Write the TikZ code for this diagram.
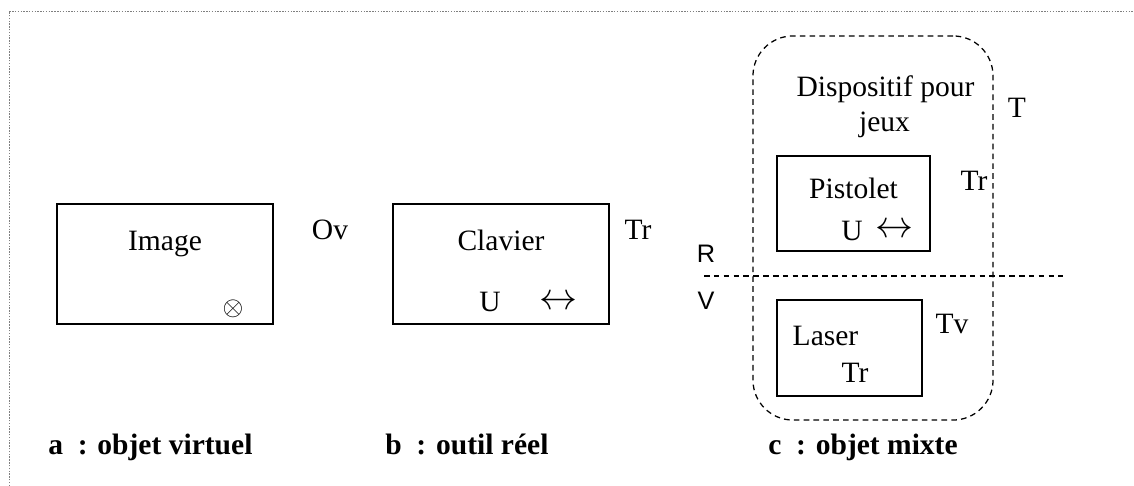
\documentclass[tikz,border=0pt]{standalone}
\usepackage{fontspec}
\setmainfont{Liberation Serif}
\setsansfont{Liberation Sans}
\usepackage{tikz}
\usetikzlibrary{positioning}
\definecolor{Frame}{HTML}{7F7F7F}

\begin{document}
\begin{tikzpicture}[x=0.025cm, y=-0.025cm,
    lbl/.style={font=\fontsize{21}{25}\selectfont, inner sep=0pt, anchor=base},
    side/.style={font=\sffamily\fontsize{18}{22}\selectfont, inner sep=0pt, anchor=base},
    captxt/.style={font=\bfseries\fontsize{21}{25}\selectfont, inner sep=0pt, anchor=base west},
    box/.style={draw, line width=0.9pt, inner sep=0pt},
    zone/.style={draw, line width=0.9pt, dash pattern=on 4pt off 3pt, rounded corners=1cm, inner sep=0pt},
    sym/.style={inner sep=0pt}]
  \useasboundingbox (0,0) rectangle (1134,486);
  % outer frame
  \draw[Frame, line width=0.5pt, dash pattern=on 1pt off 1pt] (9,486) -- (9,11) -- (1134,11);

  % a : virtual object
  \node[box, minimum width=5.4cm, minimum height=3cm] (image) at (165,264) {};
  \node[lbl] (imagetxt) at (165,250) {Image};
  \node[sym] (imagesym) at (233,309) {\scalebox{1.9}{$\otimes$}};
  \node[lbl] (ov) at (330,239) {Ov};

  % b : real tool
  \node[box, minimum width=5.4cm, minimum height=3cm] (clavier) at (501,264) {};
  \node[lbl] (claviertxt) at (501,250) {Clavier};
  \node[lbl] (clavieru) at (490,311) {U};
  \node[sym] (clavierarr) at (558,309) {\scalebox{2.7}{$\smash{\leftrightarrow}$}};
  \node[lbl] (claviertr) at (638,239) {Tr};

  % c : mixed object
  \node[zone, minimum width=6cm, minimum height=9.6cm] (dispositif) at (873,228) {};
  \node[lbl] (disptxt) at (885.5,97) {Dispositif pour};
  \node[lbl] (jeux) at (884.5,132) {jeux};
  \node[lbl] (dispt) at (1017,118) {T};
  \node[box, minimum width=3.825cm, minimum height=2.375cm] (pistolet) at (853.5,203.5) {};
  \node[lbl] (pistolettxt) at (853.5,199) {Pistolet};
  \node[lbl] (pistoletu) at (852,240) {U};
  \node[sym] (pistoletarr) at (894,237) {\scalebox{2.7}{$\smash{\leftrightarrow}$}};
  \node[lbl] (pistolettr) at (974,191) {Tr};
  \node[box, minimum width=3.625cm, minimum height=2.4cm] (laser) at (849.5,348) {};
  \node[lbl] (lasertxt) at (825.5,345) {Laser};
  \node[lbl] (lasertr) at (855,382) {Tr};
  \node[lbl] (lasertv) at (952,333) {Tv};

  % real / virtual border
  \coordinate (rvleft) at (704,276);
  \coordinate (rvright) at (1063,276);
  \draw[line width=0.9pt, dash pattern=on 4pt off 3pt] (rvleft) -- (rvright);
  \node[side] (reel) at (706,263) {R};
  \node[side] (virtuel) at (706,309) {V};

  % captions
  \foreach \n/\x/\t in {capa/48/a~~: objet virtuel, capb/385/b~~: outil réel, capc/768/c~~: objet mixte}
    \node[captxt] (\n) at (\x,454) {\t};
\end{tikzpicture}
\end{document}
